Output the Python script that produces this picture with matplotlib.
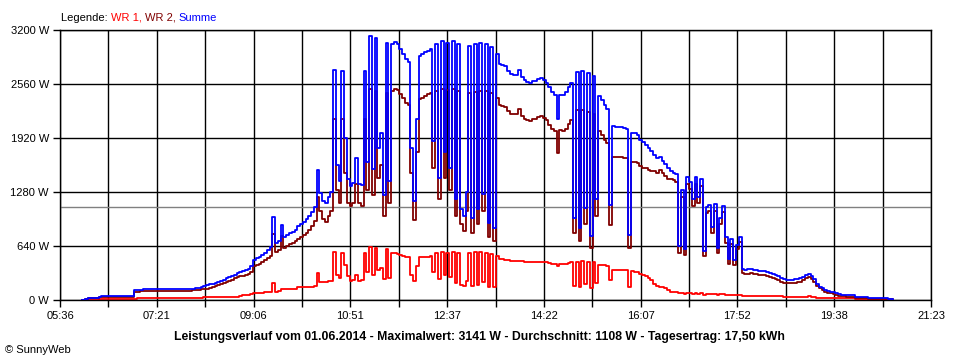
import numpy as np
import matplotlib.pyplot as plt

plt.rcParams['font.family'] = ['Liberation Sans', 'DejaVu Sans']

# samples every 3 minutes starting 06:00, one row per hour
start_min = 6 * 60
step_min = 3

# WR 2 (dark red), W
wr2 = [
    0, 15, 18, 18, 18, 20, 30, 35, 35, 35, 36, 36, 36, 37, 37, 38, 38, 38, 38, 98,
    100, 102, 104, 108, 112, 112, 110, 108, 106, 104, 104, 105, 105, 106, 104, 103, 104, 105, 106, 106,
    113, 116, 123, 130, 127, 135, 145, 155, 165, 175, 188, 200, 215, 228, 242, 258, 275, 288, 285, 298,
    305, 330, 400, 420, 430, 450, 470, 500, 525, 780, 570, 590, 760, 620, 640, 665, 680, 700, 720, 745,
    770, 800, 830, 880, 940, 1220, 1050, 960, 930, 1000, 1050, 2150, 1300, 1150, 2150, 1500, 1150, 1120, 1150, 1380,
    1150, 1120, 2150, 1300, 2500, 1250, 2480, 1450, 1600, 1000, 2450, 1150, 2480, 2500, 2490, 2440, 2400, 2340, 2310, 1500,
    950, 1750, 2380, 2400, 2420, 2440, 2450, 1560, 2480, 1200, 2500, 1450, 2490, 1300, 2500, 1000, 2480, 900, 820, 1050,
    2450, 800, 2470, 900, 2480, 1050, 2480, 750, 2450, 700, 2400, 2310, 2300, 2290, 2240, 2210, 2200, 2210, 2260, 2180,
    2150, 2130, 2120, 2140, 2150, 2170, 2180, 2160, 2130, 2080, 2030, 2000, 1740, 2010, 2000, 2030, 2090, 2130, 800, 2250,
    700, 2250, 900, 2230, 620, 2200, 1000, 2000, 1950, 1900, 1860, 890, 1700, 1700, 1690, 1690, 1680, 1680, 620, 1630,
    1640, 1620, 1590, 1570, 1560, 1540, 1530, 1530, 1510, 1540, 1500, 1470, 1440, 1430, 1420, 1400, 560, 1220, 530, 1380,
    1320, 1120, 1380, 1150, 1350, 520, 1030, 1050, 800, 1060, 560, 900, 1040, 680, 430, 660, 420, 600, 690, 320,
    310, 312, 315, 308, 305, 300, 300, 298, 290, 275, 262, 250, 238, 215, 205, 200, 198, 200, 205, 210,
    218, 235, 255, 268, 250, 215, 170, 140, 118, 100, 88, 80, 70, 60, 52, 45, 42, 40, 40, 38,
    25, 24, 24, 22, 20, 14, 14, 14, 14, 14, 13, 12, 12, 10, 0,
]

# WR 1 (red), W
wr1 = [
    0, 0, 2, 2, 2, 2, 8, 10, 10, 10, 10, 10, 11, 11, 11, 12, 12, 12, 12, 17,
    20, 20, 21, 21, 22, 22, 22, 22, 22, 22, 22, 22, 22, 22, 22, 22, 22, 22, 22, 22,
    22, 22, 22, 25, 38, 40, 40, 40, 40, 40, 40, 40, 40, 40, 40, 40, 40, 42, 60, 62,
    65, 70, 79, 80, 82, 85, 90, 95, 98, 205, 100, 110, 130, 126, 126, 128, 130, 130, 155, 158,
    158, 160, 160, 160, 165, 316, 217, 217, 215, 220, 225, 573, 300, 260, 560, 420, 280, 230, 240, 300,
    230, 240, 560, 330, 630, 300, 620, 350, 380, 250, 600, 260, 560, 555, 550, 530, 520, 515, 510, 300,
    220, 400, 510, 515, 515, 515, 520, 330, 560, 250, 570, 300, 560, 270, 570, 200, 560, 180, 170, 230,
    560, 170, 570, 180, 570, 210, 560, 160, 550, 150, 520, 490, 485, 480, 470, 465, 462, 460, 465, 460,
    455, 450, 450, 450, 450, 455, 455, 450, 445, 440, 430, 425, 400, 425, 425, 430, 440, 445, 170, 455,
    150, 460, 190, 455, 140, 450, 200, 420, 415, 410, 400, 240, 360, 355, 355, 355, 355, 350, 150, 345,
    336, 330, 310, 300, 280, 260, 240, 190, 170, 160, 150, 140, 120, 100, 90, 90, 80, 80, 70, 80,
    80, 75, 80, 75, 80, 60, 75, 75, 70, 75, 60, 70, 70, 65, 55, 60, 55, 55, 55, 50,
    50, 50, 50, 48, 48, 47, 47, 47, 47, 46, 46, 45, 45, 42, 40, 40, 40, 40, 40, 40,
    40, 40, 40, 42, 40, 35, 25, 20, 20, 20, 20, 20, 20, 18, 18, 18, 18, 18, 18, 18,
    15, 14, 13, 13, 10, 6, 6, 6, 6, 6, 6, 6, 5, 5, 0,
]

avg_w = 1108
x_labels = ['05:36', '07:21', '09:06', '10:51', '12:37', '14:22', '16:07', '17:52', '19:38', '21:23']
y_ticks = [0, 640, 1280, 1920, 2560, 3200]
title = ('Leistungsverlauf vom 01.06.2014 - Maximalwert: 3141 W - '
         'Durchschnitt: 1108 W - Tagesertrag: 17,50 kWh')

t = start_min + step_min * np.arange(len(wr1))
wr1 = np.array(wr1)
wr2 = np.array(wr2)
summe = wr1 + wr2

fig = plt.figure(figsize=(9.6, 3.6), dpi=100)
ax = fig.add_axes([60 / 960, 60 / 360, 871 / 960, 270 / 360])

x0, x1 = 5 * 60 + 36, 21 * 60 + 23
ax.set_xlim(x0, x1)
ax.set_ylim(0, 3200)

grid_x = np.linspace(x0, x1, 19)
ax.set_xticks(grid_x)
ax.set_xticklabels([x_labels[i // 2] if i % 2 == 0 else '' for i in range(19)])
ax.set_yticks(y_ticks)
ax.set_yticklabels([f'{v} W' for v in y_ticks])
ax.tick_params(length=5, width=1, color='black', labelsize=8, pad=3)
ax.grid(True, color='black', lw=1)
ax.set_axisbelow(True)
for s in ax.spines.values():
    s.set_color('black')
    s.set_linewidth(1)

ax.axhline(avg_w, color='#808080', lw=1, zorder=1.5)
ax.plot(t, wr1, drawstyle='steps-post', color='#ff0000', lw=1.3, zorder=2)
ax.plot(t, wr2, drawstyle='steps-post', color='#800000', lw=1.3, zorder=3)
ax.plot(t, summe, drawstyle='steps-post', color='#0000ff', lw=1.3, zorder=4)

# legend line in the top left
t_leg = fig.text(61 / 960, 1 - 21 / 360, 'Legende: ', fontsize=8, va='baseline')
prev = t_leg
for txt, col in [('WR 1, ', '#ff0000'), ('WR 2, ', '#800000'), ('Summe', '#0000ff')]:
    prev = ax.annotate(txt, xy=(1, 0), xycoords=prev, va='bottom', ha='left',
                       fontsize=8, color=col, annotation_clip=False)

fig.text(479.5 / 960, 1 - 337 / 360, title, ha='center', va='center',
         fontsize=8.8, fontweight='bold')
fig.text(5 / 960, 1 - 350 / 360, '© SunnyWeb', fontsize=8, va='center')

fig.savefig('out.png', dpi=100)
